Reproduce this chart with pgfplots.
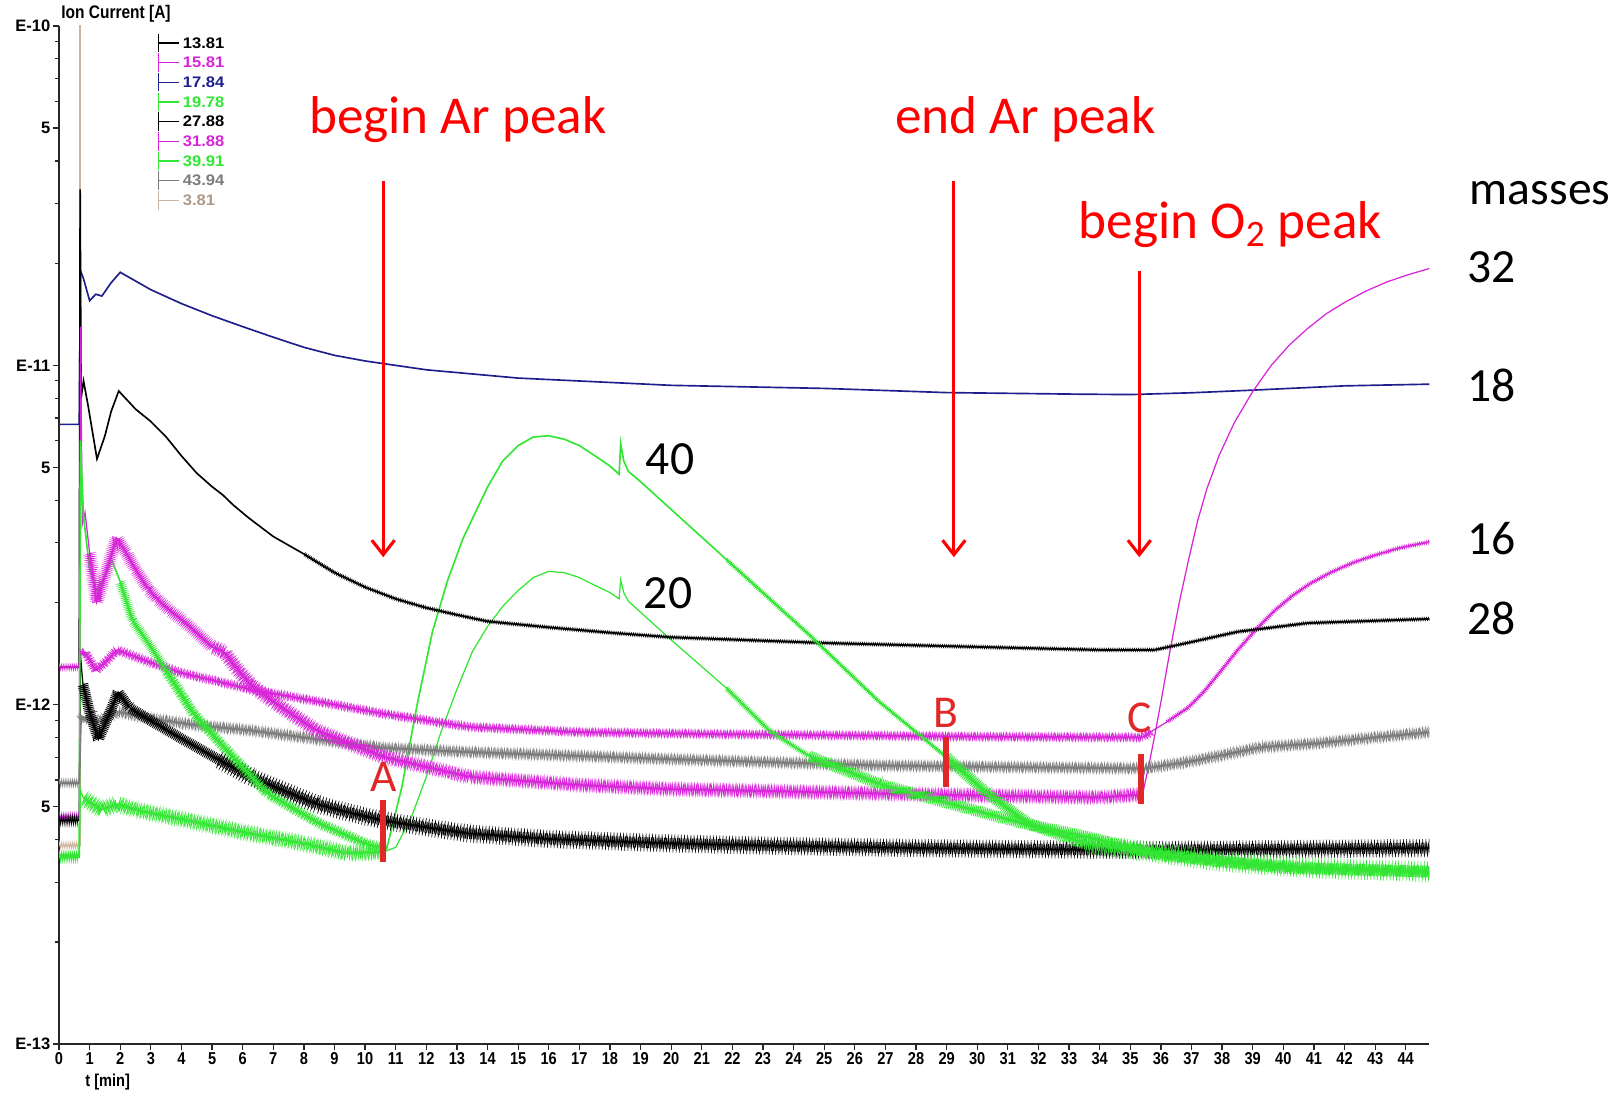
\documentclass[border=0pt]{standalone}
\usepackage{pgfplots}
\pgfplotsset{compat=1.18}
\usepackage{pgfplotstable}
\usepackage{fontspec}
\setmainfont{Carlito}
\newfontfamily\tickfont[FakeStretch=0.85]{Liberation Sans}
\newfontfamily\yfont{Liberation Sans}
\newfontfamily\legfont[FakeStretch=1.08]{Liberation Sans}
\usetikzlibrary{arrows.meta,decorations.pathmorphing}

\definecolor{cmag}{HTML}{D824D8}
\definecolor{cnavy}{HTML}{1E1E8C}
\definecolor{cgreen}{HTML}{33E633}
\definecolor{cgray}{HTML}{7C7C7C}
\definecolor{ctan}{HTML}{CDB4A0}
\definecolor{cred}{HTML}{FF0000}
\definecolor{cbar}{HTML}{E02828}

\pgfplotsset{
  noisy/.style={forget plot, line width=0.32pt, decorate,
    decoration={zigzag, segment length=0.9pt, amplitude=#1}},
  spiky/.style={forget plot, line width=0.18pt, decorate,
    decoration={zigzag, segment length=1.55pt, amplitude=#1}}}

% mass 13.81
\pgfplotstableread{
t I
0 4.56e-13
0.66 4.56e-13
0.70 1.4e-12
0.78 1.15e-12
1.0 9.5e-13
1.29 7.9e-13
1.6 9.2e-13
1.93 1.09e-12
2.3 9.8e-13
2.97 9.0e-13
4.05 7.9e-13
5.2 6.9e-13
6.25 6.13e-13
7.3 5.6e-13
8.4 5.1e-13
9.5 4.8e-13
10.6 4.56e-13
12 4.35e-13
13.4 4.17e-13
16 4.02e-13
20 3.9e-13
24 3.83e-13
28 3.78e-13
32 3.75e-13
35 3.73e-13
38 3.74e-13
41 3.76e-13
44.8 3.78e-13
}\tA
% mass 15.81
\pgfplotstableread{
t I
0 1.29e-12
0.66 1.29e-12
0.72 1.41e-12
0.85 1.43e-12
1.2 1.26e-12
1.5 1.33e-12
1.9 1.45e-12
3 1.33e-12
4 1.24e-12
5.2 1.17e-12
6.25 1.11e-12
8.5 1.02e-12
10.6 9.4e-13
13.4 8.6e-13
17 8.3e-13
21 8.2e-13
25 8.13e-13
30 8.05e-13
35.4 8.01e-13
35.7 8.35e-13
36.2 8.90e-13
36.9 9.82e-13
37.4 1.091e-12
37.9 1.238e-12
38.5 1.445e-12
39.1 1.663e-12
39.7 1.888e-12
40.3 2.097e-12
40.9 2.282e-12
41.6 2.465e-12
42.3 2.626e-12
43.0 2.758e-12
43.8 2.897e-12
44.8 3.022e-12
}\tB
% mass 17.84
\pgfplotstableread{
t I
0 6.7e-12
0.66 6.7e-12
0.70 1.9e-11
0.8 1.8e-11
1.0 1.55e-11
1.2 1.62e-11
1.4 1.6e-11
1.7 1.75e-11
2.0 1.88e-11
3 1.67e-11
4 1.52e-11
5 1.40e-11
6 1.30e-11
7 1.21e-11
8 1.13e-11
9 1.07e-11
10 1.03e-11
12 9.7e-12
15 9.17e-12
20 8.73e-12
25 8.55e-12
29 8.31e-12
33.4 8.22e-12
35 8.2e-12
37 8.3e-12
39 8.45e-12
42 8.7e-12
44.8 8.8e-12
}\tC
% mass 19.78
\pgfplotstableread{
t I
0 3.55e-13
0.66 3.55e-13
0.70 5.6e-13
0.8 5.3e-13
1.4 4.9e-13
1.9 5.1e-13
2.5 4.9e-13
4 4.6e-13
6.25 4.17e-13
8 3.9e-13
9.4 3.65e-13
10.6 3.68e-13
11.0 3.8e-13
11.5 4.63e-13
12.0 6.13e-13
12.5 8.41e-13
13.0 1.11e-12
13.5 1.43e-12
14 1.70e-12
14.5 1.95e-12
15 2.17e-12
15.5 2.37e-12
16 2.47e-12
16.5 2.45e-12
17 2.37e-12
17.5 2.25e-12
18 2.14e-12
18.3 2.05e-12
18.35 2.33e-12
18.45 2.14e-12
18.6 2.02e-12
19.9 1.58e-12
21.8 1.12e-12
23.2 8.4e-13
24.5 7.06e-13
26.8 5.84e-13
29 5.14e-13
31.5 4.47e-13
33.5 4.1e-13
36 3.6e-13
40 3.3e-13
44.8 3.22e-13
}\tD
% mass 27.88
\pgfplotstableread{
t I
0 1.29e-12
0.66 1.29e-12
0.69 3.3e-11
0.72 8.0e-12
0.8 9.0e-12
0.95 7.6e-12
1.24 5.3e-12
1.5 6.2e-12
1.7 7.3e-12
1.95 8.4e-12
2.5 7.43e-12
3.0 6.83e-12
3.5 6.15e-12
4.0 5.41e-12
4.5 4.81e-12
5.0 4.39e-12
5.35 4.15e-12
5.7 3.87e-12
6.2 3.55e-12
7 3.13e-12
8 2.78e-12
9 2.45e-12
10 2.22e-12
11 2.05e-12
12 1.93e-12
13 1.84e-12
14 1.76e-12
16 1.69e-12
18 1.63e-12
20 1.58e-12
25 1.52e-12
30 1.48e-12
34 1.45e-12
35.8 1.45e-12
37 1.53e-12
38.5 1.64e-12
40.8 1.74e-12
44.8 1.79e-12
}\tE
% mass 31.88
\pgfplotstableread{
t I
0 4.66e-13
0.66 4.66e-13
0.70 1.3e-11
0.76 3.4e-12
0.85 3.68e-12
1.0 2.8e-12
1.23 2.0e-12
1.5 2.4e-12
1.88 3.1e-12
2.2 2.8e-12
2.5 2.5e-12
2.9 2.2e-12
3.2 2.05e-12
3.6 1.9e-12
4.05 1.77e-12
5.0 1.48e-12
5.4 1.43e-12
5.8 1.28e-12
6.25 1.15e-12
7 1.02e-12
8.4 8.41e-13
10.6 7.02e-13
13.4 6.13e-13
17 5.80e-13
20 5.64e-13
25 5.52e-13
30 5.40e-13
34 5.33e-13
35.4 5.44e-13
35.6 6.58e-13
35.8 8.12e-13
36.0 1.017e-12
36.3 1.445e-12
36.6 2.0e-12
36.9 2.66e-12
37.2 3.48e-12
37.5 4.32e-12
37.9 5.42e-12
38.4 6.78e-12
39.0 8.37e-12
39.6 9.98e-12
40.2 1.148e-11
40.8 1.285e-11
41.4 1.418e-11
42.0 1.532e-11
42.7 1.655e-11
43.4 1.763e-11
44.1 1.852e-11
44.8 1.932e-11
}\tF
% mass 39.91
\pgfplotstableread{
t I
0 3.6e-13
0.66 3.6e-13
0.70 6.0e-12
0.8 3.6e-12
1.0 2.5e-12
1.23 2.17e-12
1.5 2.4e-12
1.73 2.66e-12
2.0 2.3e-12
2.4 1.77e-12
3 1.48e-12
3.5 1.26e-12
4.4 9.4e-13
5.5 7.31e-13
6.8 5.48e-13
8.5 4.47e-13
10 3.9e-13
10.7 3.75e-13
11.2 5.71e-13
11.7 1.0e-12
12.2 1.64e-12
12.7 2.33e-12
13.2 3.09e-12
14 4.38e-12
14.5 5.23e-12
15 5.80e-12
15.5 6.15e-12
16 6.2e-12
16.5 6.06e-12
17 5.80e-12
17.5 5.42e-12
18 5.05e-12
18.3 4.77e-12
18.35 5.89e-12
18.45 5.23e-12
18.6 4.87e-12
19 4.54e-12
21.8 2.68e-12
24.5 1.61e-12
26.8 1.02e-12
29 7.0e-13
30.3 5.5e-13
31.7 4.45e-13
33.5 3.9e-13
35.5 3.7e-13
38 3.45e-13
41 3.3e-13
44.8 3.22e-13
}\tG
% mass 43.94
\pgfplotstableread{
t I
0 5.88e-13
0.66 5.88e-13
0.72 9.0e-13
0.8 9.2e-13
1.3 8.9e-13
1.9 9.55e-13
3 9.1e-13
4.5 8.7e-13
6.25 8.4e-13
8.5 7.9e-13
10.6 7.46e-13
13.4 7.25e-13
20 6.91e-13
26.8 6.62e-13
31 6.55e-13
35.5 6.49e-13
37 6.81e-13
39.3 7.5e-13
41 7.68e-13
43 8.01e-13
44.8 8.30e-13
}\tH
% mass 3.81
\pgfplotstableread{
t I
0 3.85e-13
0.66 3.85e-13
0.68 3.85e-13
0.68 1e-9
}\tI

\begin{document}
\begin{tikzpicture}
\useasboundingbox (0pt,0pt) rectangle (784pt,527.5pt);
\begin{axis}[
  at={(28.5pt,23.5pt)}, anchor=south west,
  scale only axis, width=661.5pt, height=491.5pt,
  xmin=0, xmax=44.77,
  ymode=log, ymin=1e-13, ymax=1e-10,
  axis x line=bottom, axis y line=left,
  axis line style={-, line width=0.9pt, black!85},
  tick align=outside,
  major tick length=3pt, minor tick length=1.8pt,
  tick style={line width=0.6pt, black!85},
  xtick={0,1,...,44},
  xticklabels={0,1,2,3,4,5,6,7,8,9,10,11,12,13,14,15,16,17,18,19,20,21,22,23,24,25,26,27,28,29,30,31,32,33,34,35,36,37,38,39,40,41,42,43,44},
  ytick={1e-13,5e-13,1e-12,5e-12,1e-11,5e-11,1e-10},
  yticklabels={E-13,5,E-12,5,E-11,5,E-10},
  minor ytick={2e-13,3e-13,4e-13,6e-13,7e-13,8e-13,9e-13,2e-12,3e-12,4e-12,6e-12,7e-12,8e-12,9e-12,2e-11,3e-11,4e-11,6e-11,7e-11,8e-11,9e-11},
  xticklabel style={font=\tickfont\bfseries\fontsize{8.3}{9}\selectfont, inner sep=1pt},
  yticklabel style={font=\yfont\bfseries\fontsize{8}{9}\selectfont, inner sep=1pt},
  legend style={at={(axis description cs:0.0718,0.9934)}, anchor=north west,
    draw=none, fill=none, inner sep=0pt, row sep=0pt, column sep=1.5pt,
    nodes={inner sep=0pt, text height=5pt, text depth=0pt,
      font=\legfont\bfseries\fontsize{7.4}{8}\selectfont}},
  legend cell align=left,
  legend image code/.code={\draw[#1, line width=0.6pt] (0pt,-4.45pt) -- (0pt,4.45pt) (0pt,0pt) -- (10pt,0pt);},
]
% mass 3.81 drawn first (underneath), listed last in the legend
\addplot[ctan, line width=0.8pt, forget plot] table[x=t,y=I]{\tI};
\addplot[ctan, noisy=1.5pt, restrict x to domain=0:0.66] table[x=t,y=I]{\tI};

\addplot[black, line width=0.6pt] table[x=t,y=I]{\tA};
\addlegendentry{\textcolor{black}{13.81}}
\addplot[cmag, line width=0.6pt] table[x=t,y=I]{\tB};
\addlegendentry{\textcolor{cmag}{15.81}}
\addplot[cnavy, line width=0.8pt] table[x=t,y=I]{\tC};
\addlegendentry{\textcolor{cnavy}{17.84}}
\addplot[cgreen, line width=0.6pt] table[x=t,y=I]{\tD};
\addlegendentry{\textcolor{cgreen}{19.78}}
\addplot[black, line width=0.8pt] table[x=t,y=I]{\tE};
\addlegendentry{\textcolor{black}{27.88}}
\addplot[cmag, line width=0.6pt] table[x=t,y=I]{\tF};
\addlegendentry{\textcolor{cmag}{31.88}}
\addplot[cgreen, line width=0.8pt] table[x=t,y=I]{\tG};
\addlegendentry{\textcolor{cgreen}{39.91}}
\addplot[cgray, line width=0.8pt] table[x=t,y=I]{\tH};
\addlegendentry{\textcolor{cgray}{43.94}}
\addlegendimage{ctan, line width=0.8pt}
\addlegendentry{\textcolor{ctan!85!black}{3.81}}

% noise bands
\addplot[cgray, noisy=1.6pt, restrict x to domain=0:0.66] table[x=t,y=I]{\tH};
\addplot[cgray, noisy=1.6pt, restrict x to domain=0.72:44.8] table[x=t,y=I]{\tH};
\addplot[cgray, spiky=2.8pt, restrict x to domain=0.72:44.8] table[x=t,y=I]{\tH};
\addplot[cmag, noisy=1.3pt, restrict x to domain=0:0.66] table[x=t,y=I]{\tB};
\addplot[cmag, noisy=1.3pt, restrict x to domain=0.72:36] table[x=t,y=I]{\tB};
\addplot[cmag, spiky=2.2pt, restrict x to domain=0.72:36] table[x=t,y=I]{\tB};
\addplot[cmag, noisy=0.8pt, restrict x to domain=36:44.8] table[x=t,y=I]{\tB};
\addplot[cmag, noisy=1.8pt, restrict x to domain=0:0.66] table[x=t,y=I]{\tF};
\addplot[cmag, noisy=2pt, restrict x to domain=1.0:35.4] table[x=t,y=I]{\tF};
\addplot[cmag, spiky=3.2pt, restrict x to domain=5:35.4] table[x=t,y=I]{\tF};
\addplot[black, noisy=0.7pt, restrict x to domain=8:44.8] table[x=t,y=I]{\tE};
\addplot[black, noisy=2pt, restrict x to domain=0:0.66] table[x=t,y=I]{\tA};
\addplot[black, noisy=2.6pt, restrict x to domain=0.78:44.8] table[x=t,y=I]{\tA};
\addplot[black, spiky=4.4pt, restrict x to domain=5:44.8] table[x=t,y=I]{\tA};
\addplot[cgreen, noisy=1.5pt, restrict x to domain=0:0.66] table[x=t,y=I]{\tG};
\addplot[cgreen, noisy=1.6pt, restrict x to domain=2:10.7] table[x=t,y=I]{\tG};
\addplot[cgreen, spiky=2.4pt, restrict x to domain=3.5:10.7] table[x=t,y=I]{\tG};
\addplot[cgreen, noisy=0.8pt, restrict x to domain=21.8:29] table[x=t,y=I]{\tG};
\addplot[cgreen, noisy=2.8pt, restrict x to domain=29:44.8] table[x=t,y=I]{\tG};
\addplot[cgreen, spiky=5pt, restrict x to domain=33:44.8] table[x=t,y=I]{\tG};
\addplot[cgreen, noisy=2pt, restrict x to domain=0:0.66] table[x=t,y=I]{\tD};
\addplot[cgreen, noisy=2.2pt, restrict x to domain=0.8:10.9] table[x=t,y=I]{\tD};
\addplot[cgreen, spiky=3.6pt, restrict x to domain=0.8:10.9] table[x=t,y=I]{\tD};
\addplot[cgreen, noisy=1pt, restrict x to domain=21.8:24.5] table[x=t,y=I]{\tD};
\addplot[cgreen, noisy=2.8pt, restrict x to domain=24.5:44.8] table[x=t,y=I]{\tD};
\end{axis}

% axis titles
\node[font=\tickfont\bfseries\fontsize{8.8}{9}\selectfont] at (56pt,521pt) {Ion Current [A]};
\node[font=\tickfont\bfseries\fontsize{8.3}{9}\selectfont] at (52pt,5pt) {t [min]};

% annotations
\begin{scope}[every node/.style={font=\fontsize{25.7}{30}\selectfont, text=cred}]
\node at (221pt,470pt) {begin Ar peak};
\node at (495pt,470pt) {end Ar peak};
\node at (594pt,419pt) {begin O\textsubscript{2} peak};
\end{scope}
\begin{scope}[every node/.style={font=\fontsize{23}{27}\selectfont}]
\node at (743.5pt,434.5pt) {masses};
\node at (720pt,398.5pt) {32};
\node at (720pt,341.5pt) {18};
\node at (720pt,267.5pt) {16};
\node at (720pt,229pt) {28};
\node at (323.5pt,306pt) {40};
\node at (322.5pt,241pt) {20};
\end{scope}
\draw[cred, line width=1.5pt, -{Straight Barb[length=7pt,width=11pt,line width=1.5pt]}] (185pt,440pt) -- (185pt,258.5pt);
\draw[cred, line width=1.5pt, -{Straight Barb[length=7pt,width=11pt,line width=1.5pt]}] (460.5pt,440pt) -- (460.5pt,258.5pt);
\draw[cred, line width=1.5pt, -{Straight Barb[length=7pt,width=11pt,line width=1.5pt]}] (550pt,396.5pt) -- (550pt,258.5pt);

\begin{scope}[every node/.style={font=\fontsize{22}{26}\selectfont, text=cbar}]
\node at (185pt,152.5pt) {A};
\node at (456.5pt,183.5pt) {B};
\node at (550pt,181pt) {C};
\end{scope}
\draw[cbar, line width=3pt] (185pt,141.5pt) -- (185pt,111.5pt);
\draw[cbar, line width=3pt] (456.5pt,171.5pt) -- (456.5pt,147.5pt);
\draw[cbar, line width=3pt] (551pt,163.5pt) -- (551pt,139.5pt);
\end{tikzpicture}
\end{document}
